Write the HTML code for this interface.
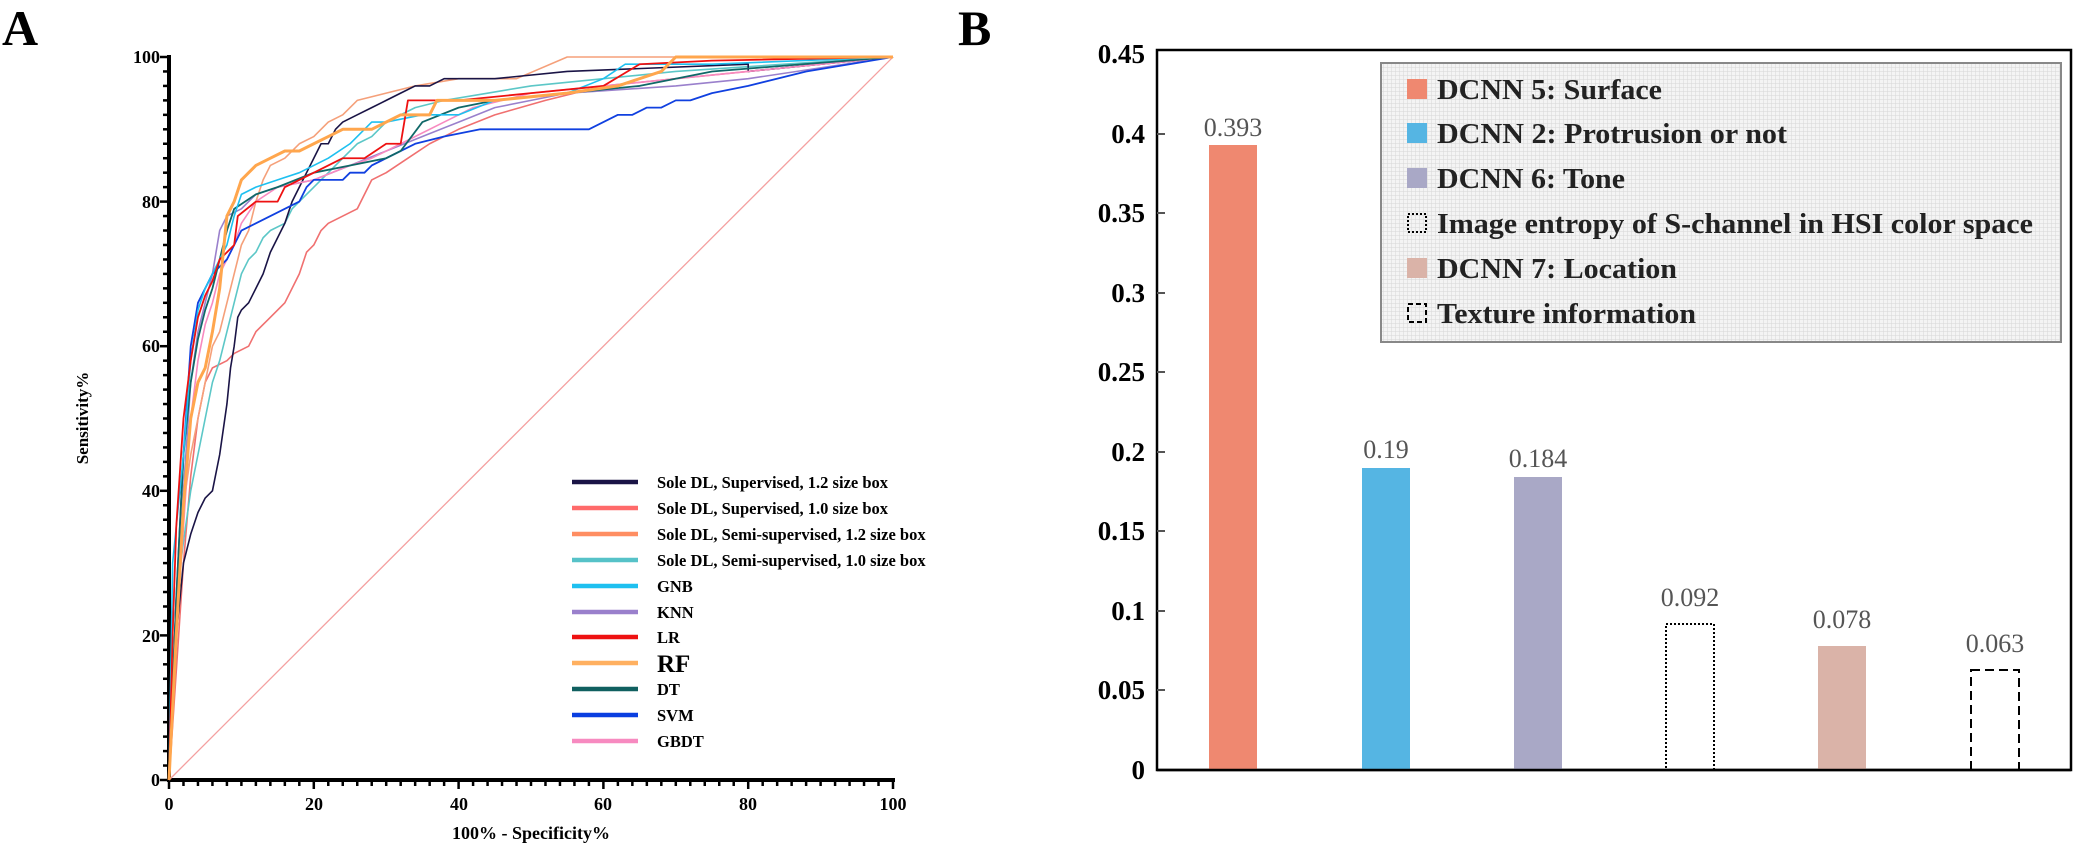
<!DOCTYPE html>
<html><head><meta charset="utf-8"><style>
html,body{margin:0;padding:0;background:#fff}
svg{display:block}
text{font-family:"Liberation Serif",serif}
</style></head><body>
<svg width="2073" height="845" viewBox="0 0 2073 845" xmlns="http://www.w3.org/2000/svg">
<defs>
<pattern id="grid" width="4" height="4" patternUnits="userSpaceOnUse">
<rect width="4" height="4" fill="#f4f4f4"/>
<path d="M4 0V4M0 4H4" stroke="#d6d6d6" stroke-width="1"/>
</pattern>
</defs>
<text x="2" y="45" font-size="50" font-weight="bold">A</text>
<text x="958" y="45" font-size="50" font-weight="bold">B</text>

<!-- Panel A -->
<g id="ticksA" stroke="#000" stroke-width="2.5"></g>
<line x1="169" y1="55" x2="169" y2="782" stroke="#000" stroke-width="4"/>
<line x1="167" y1="780" x2="895" y2="780" stroke="#000" stroke-width="4"/>
<g font-size="18" font-weight="bold" text-anchor="end">
<text x="160" y="786">0</text><text x="160" y="642">20</text><text x="160" y="497">40</text>
<text x="160" y="352">60</text><text x="160" y="208">80</text><text x="160" y="63">100</text>
</g>
<g font-size="18" font-weight="bold" text-anchor="middle">
<text x="169" y="810">0</text><text x="314" y="810">20</text><text x="459" y="810">40</text>
<text x="603" y="810">60</text><text x="748" y="810">80</text><text x="893" y="810">100</text>
</g>
<text x="531" y="839" font-size="18" font-weight="bold" text-anchor="middle">100% - Specificity%</text>
<text transform="translate(88,418) rotate(-90)" font-size="17" font-weight="bold" text-anchor="middle">Sensitivity%</text>

<g transform="translate(169,780) scale(7.24,-7.23)" fill="none" stroke-linejoin="round">
<polyline vector-effect="non-scaling-stroke" stroke="#f4a0a0" stroke-width="1.3" points="0,0 100,100"/>
<polyline vector-effect="non-scaling-stroke" stroke="#f07070" stroke-width="1.6" points="0,0 1,15 2,30 3,42 4,50 5,55 6,57 8,58 9,59 11,60 12,62 14,64 16,66 18,70 19,73 20,74 21,76 22,77 24,78 26,79 27,81 28,83 30,84 33,86 36,88 40,90 45,92 52,94 60,96 70,97 80,98 100,100"/>
<polyline vector-effect="non-scaling-stroke" stroke="#f5a07a" stroke-width="1.6" points="0,0 1,25 2,38 3,45 4,50 5,55 6,60 7,62 8,66 9,70 10,74 11,76 12,80 13,83 14,85 16,86 18,88 20,89 22,91 24,92 26,94 30,95 34,96 40,97 48,97 55,100 100,100"/>
<polyline vector-effect="non-scaling-stroke" stroke="#5cc7c7" stroke-width="1.6" points="0,0 1,25 2,33 3,40 4,45 5,50 6,55 7,58 8,62 9,66 10,70 11,72 12,73 13,75 14,76 16,77 17,79 18,80 20,82 22,84 24,86 26,88 28,89 30,91 34,93 38,94 44,95 50,96 60,97 70,98 100,100"/>
<polyline vector-effect="non-scaling-stroke" stroke="#1a1446" stroke-width="1.6" points="0,0 1,20 2,30 3,34 4,37 5,39 6,40 7,45 8,52 8.5,57 9,60 9.5,64 10,65 11,66 12,68 13,70 14,73 15,75 16,77 17,80 18,82 19,84 20,86 21,88 22,88 23,90 24,91 26,92 28,93 30,94 32,95 34,96 36,96 38,97 45,97 55,98 80,99 80,98 100,100"/>
<polyline vector-effect="non-scaling-stroke" stroke="#9a80cc" stroke-width="1.6" points="0,0 1,20 2,40 3,55 4,62 6,70 7,76 8,78 10,79 12,81 15,82 20,83 25,85 30,87 35,89 40,91 45,93 50,94 55,95 70,96 80,97 100,100"/>
<polyline vector-effect="non-scaling-stroke" stroke="#f78ac0" stroke-width="1.6" points="0,0 1,20 2,35 3,50 4,58 5,63 6,66 7,70 8,72 9,74 10,77 12,80 15,82 20,83 25,85 28,86 32,88 38,91 42,93 50,95 60,96 70,97 80,98 100,100"/>
<polyline vector-effect="non-scaling-stroke" stroke="#1040e0" stroke-width="1.8" points="0,0 1,25 2,45 3,60 4,66 5,68 6,70 7,71 8,72 9,74 10,76 12,77 14,78 16,79 18,80 19,82 20,83 24,83 25,84 27,84 28,85 30,86 34,88 38,89 43,90 58,90 60,91 62,92 64,92 66,93 68,93 70,94 72,94 75,95 80,96 88,98 100,100"/>
<polyline vector-effect="non-scaling-stroke" stroke="#106868" stroke-width="1.8" points="0,0 1,25 2,45 3,55 4,61 5,65 6,68 7,72 8,76 9,79 12,81 15,82 20,84 25,85 30,86 32,87 35,91 40,93 45,94 55,95 65,96 75,98 100,100"/>
<polyline vector-effect="non-scaling-stroke" stroke="#1ec0f0" stroke-width="1.6" points="0,0 0.5,30 2,45 3,58 4,65 5,68 6,70 7,72 8,74 9,78 10,81 12,82 15,83 18,84 20,85 22,86 25,88 28,91 30,91 35,92 40,92 45,94 55,95 60,97 63,99 75,99 100,100"/>
<polyline vector-effect="non-scaling-stroke" stroke="#ee1111" stroke-width="1.8" points="0,0 0.5,20 1,35 2,50 3,58 4,64 5,67 6,69 7,72 8,73 9,74 9.5,78 12,80 15,80 16,82 18,83 20,84 22,85 24,86 27,86 30,88 32,88 33,94 40,94 50,95 60,96 65,99 75,99.5 100,100"/>
<polyline vector-effect="non-scaling-stroke" stroke="#ffa64d" stroke-width="3" points="0,0 1,20 2,38 3,50 4,55 5,57 6,62 7,68 8,78 9,80 10,83 12,85 14,86 16,87 18,87 20,88 22,89 24,90 28,90 32,92 36,92 37,94 40,94 45,94 55,95 62,96 68,98 70,100 100,100"/>
</g>

<g stroke-width="4.5">
<line x1="572" y1="482" x2="638" y2="482" stroke="#1a1446"/>
<line x1="572" y1="508" x2="638" y2="508" stroke="#ff6a6a"/>
<line x1="572" y1="534" x2="638" y2="534" stroke="#ff8e62"/>
<line x1="572" y1="560" x2="638" y2="560" stroke="#56c2c8"/>
<line x1="572" y1="586" x2="638" y2="586" stroke="#1ec0f0"/>
<line x1="572" y1="612" x2="638" y2="612" stroke="#9a80cc"/>
<line x1="572" y1="637" x2="638" y2="637" stroke="#ee1111"/>
<line x1="572" y1="663" x2="638" y2="663" stroke="#ffb060"/>
<line x1="572" y1="689" x2="638" y2="689" stroke="#106060"/>
<line x1="572" y1="715" x2="638" y2="715" stroke="#0a3ee0"/>
<line x1="572" y1="741" x2="638" y2="741" stroke="#f78ac0"/>
</g>
<g font-size="16.5" font-weight="bold">
<text x="657" y="488">Sole DL, Supervised, 1.2 size box</text>
<text x="657" y="514">Sole DL, Supervised, 1.0 size box</text>
<text x="657" y="540">Sole DL, Semi-supervised, 1.2 size box</text>
<text x="657" y="566">Sole DL, Semi-supervised, 1.0 size box</text>
<text x="657" y="592">GNB</text>
<text x="657" y="618">KNN</text>
<text x="657" y="643">LR</text>
<text x="657" y="672" font-size="25">RF</text>
<text x="657" y="695">DT</text>
<text x="657" y="721">SVM</text>
<text x="657" y="747">GBDT</text>
</g>

<!-- Panel B -->
<rect x="1157" y="50" width="914" height="720" fill="none" stroke="#000" stroke-width="2.5"/>
<g stroke="#555" stroke-width="2">
<line x1="1157" y1="690" x2="1165" y2="690"/><line x1="1157" y1="611" x2="1165" y2="611"/>
<line x1="1157" y1="531" x2="1165" y2="531"/><line x1="1157" y1="452" x2="1165" y2="452"/>
<line x1="1157" y1="372" x2="1165" y2="372"/><line x1="1157" y1="293" x2="1165" y2="293"/>
<line x1="1157" y1="213" x2="1165" y2="213"/><line x1="1157" y1="134" x2="1165" y2="134"/>
</g>
<g font-size="27" font-weight="bold" text-anchor="end">
<text x="1145" y="779">0</text><text x="1145" y="699">0.05</text><text x="1145" y="620">0.1</text>
<text x="1145" y="540">0.15</text><text x="1145" y="461">0.2</text><text x="1145" y="381">0.25</text>
<text x="1145" y="302">0.3</text><text x="1145" y="222">0.35</text><text x="1145" y="143">0.4</text>
<text x="1145" y="63">0.45</text>
</g>
<rect x="1209" y="145" width="48" height="625" fill="#ef8870"/>
<rect x="1362" y="468" width="48" height="302" fill="#55b5e3"/>
<rect x="1514" y="477" width="48" height="293" fill="#a9a8c6"/>
<rect x="1666" y="624" width="48" height="146" fill="none" stroke="#000" stroke-width="2" stroke-dasharray="2,2"/>
<rect x="1818" y="646" width="48" height="124" fill="#dab3a8"/>
<rect x="1971" y="670" width="48" height="100" fill="none" stroke="#000" stroke-width="2" stroke-dasharray="9,5"/>
<line x1="1157" y1="770" x2="2071" y2="770" stroke="#000" stroke-width="2.5"/>
<g font-size="26" fill="#555" text-anchor="middle">
<text x="1233" y="136">0.393</text><text x="1386" y="458">0.19</text><text x="1538" y="467">0.184</text>
<text x="1690" y="606">0.092</text><text x="1842" y="628">0.078</text><text x="1995" y="652">0.063</text>
</g>

<rect x="1381" y="63" width="680" height="279" fill="url(#grid)" stroke="#888" stroke-width="2"/>
<rect x="1407" y="79" width="20" height="20" fill="#ef8870"/>
<rect x="1407" y="123" width="20" height="20" fill="#55b5e3"/>
<rect x="1407" y="168" width="20" height="20" fill="#a9a8c6"/>
<rect x="1408" y="214" width="18" height="18" fill="none" stroke="#000" stroke-width="2" stroke-dasharray="2,2"/>
<rect x="1407" y="258" width="20" height="20" fill="#dab3a8"/>
<rect x="1408" y="304" width="18" height="18" fill="none" stroke="#000" stroke-width="2" stroke-dasharray="5,3"/>
<g font-size="28" font-weight="bold" fill="#222" lengthAdjust="spacingAndGlyphs">
<text x="1437" y="99" textLength="225" lengthAdjust="spacingAndGlyphs">DCNN 5: Surface</text>
<text x="1437" y="143" textLength="350" lengthAdjust="spacingAndGlyphs">DCNN 2: Protrusion or not</text>
<text x="1437" y="188" textLength="188" lengthAdjust="spacingAndGlyphs">DCNN 6: Tone</text>
<text x="1437" y="233" textLength="596" lengthAdjust="spacingAndGlyphs">Image entropy of S-channel in HSI color space</text>
<text x="1437" y="278" textLength="240" lengthAdjust="spacingAndGlyphs">DCNN 7: Location</text>
<text x="1437" y="323" textLength="259" lengthAdjust="spacingAndGlyphs">Texture information</text>
</g>
<script>
(function(){var g=document.getElementById('ticksA'),i,ns='http://www.w3.org/2000/svg';
for(i=0;i<=50;i++){var y=780-i*2*7.23,x=169+i*2*7.24,L=(i%10==0)?9:6;
var a=document.createElementNS(ns,'line');a.setAttribute('x1',169-L);a.setAttribute('x2',169);a.setAttribute('y1',y);a.setAttribute('y2',y);g.appendChild(a);
var b=document.createElementNS(ns,'line');b.setAttribute('x1',x);b.setAttribute('x2',x);b.setAttribute('y1',780);b.setAttribute('y2',780+L);g.appendChild(b);}})();
</script>
</svg>
</body></html>
